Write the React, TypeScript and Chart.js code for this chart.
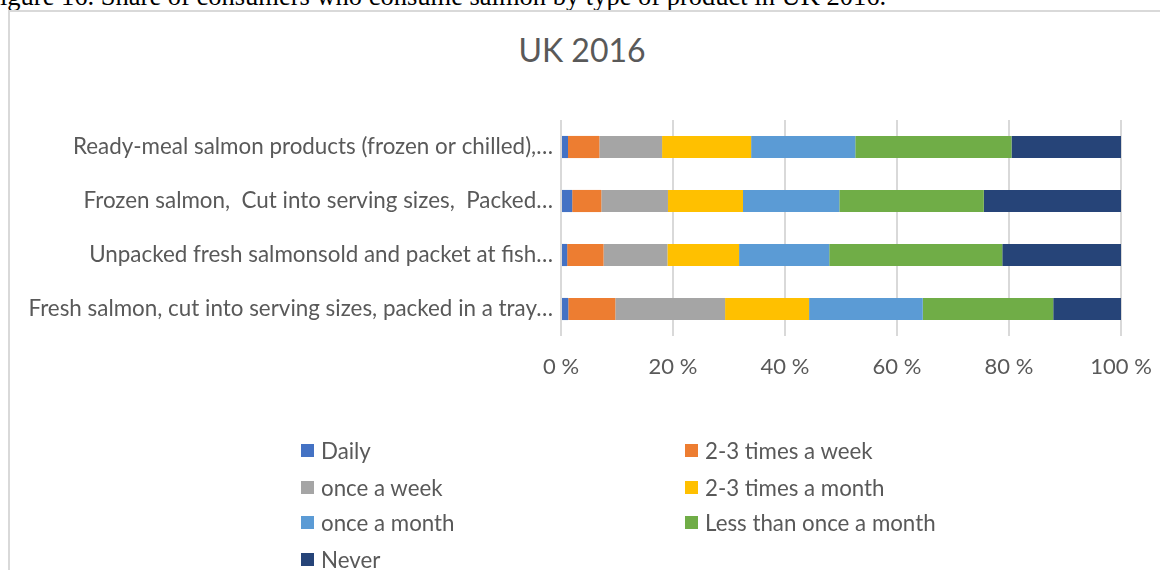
import React, { useEffect, useRef } from "react";
import { Chart, registerables } from "chart.js";

Chart.register(...registerables);

const caption = "igure 16. Share of consumers who consume salmon by type of product in UK 2016.";
const chartTitle = "UK 2016";

const categories = [
  "Ready-meal salmon products (frozen or chilled),…",
  "Frozen salmon,  Cut into serving sizes,  Packed…",
  "Unpacked fresh salmonsold and packet at fish…",
  "Fresh salmon, cut into serving sizes, packed in a tray…",
];

const seriesNames = [
  "Daily",
  "2-3 times a week",
  "once a week",
  "2-3 times a month",
  "once a month",
  "Less than once a month",
  "Never",
];

const daily = [1.25, 2.0, 1.1, 1.3];
const twoThreeWeek = [5.6, 5.2, 6.5, 8.4];
const onceWeek = [11.2, 11.9, 11.4, 19.6];
const twoThreeMonth = [15.9, 13.4, 12.8, 15.0];
const onceMonth = [18.6, 17.2, 16.1, 20.3];
const lessThanMonth = [27.9, 25.8, 30.9, 23.3];
const never = [19.55, 24.5, 21.2, 12.1];

const seriesValues = [daily, twoThreeWeek, onceWeek, twoThreeMonth, onceMonth, lessThanMonth, never];
const seriesColors = ["#4472C4", "#ED7D31", "#A5A5A5", "#FFC000", "#5B9BD5", "#70AD47", "#264478"];

const xTicks = [0, 20, 40, 60, 80, 100];
const tickSuffix = " %";

const TEXT = "#595959";
const FONT = "Lato";

export default function App() {
  const canvasRef = useRef<HTMLCanvasElement | null>(null);

  useEffect(() => {
    const canvas = canvasRef.current;
    if (!canvas) return;
    const chart = new Chart(canvas, {
      type: "bar",
      data: {
        labels: categories,
        datasets: seriesNames.map((name, i) => ({
          label: name,
          data: seriesValues[i],
          backgroundColor: seriesColors[i],
          borderWidth: 0,
          barPercentage: 0.41,
          categoryPercentage: 1.0,
        })),
      },
      options: {
        indexAxis: "y",
        responsive: false,
        animation: false,
        layout: { padding: { top: 120, right: 39, bottom: 174, left: 0 } },
        plugins: {
          legend: { display: false },
          tooltip: { enabled: false },
          title: { display: false },
        },
        scales: {
          x: {
            stacked: true,
            min: 0,
            max: 100,
            afterBuildTicks: (scale: any) => {
              scale.ticks = xTicks.map((v) => ({ value: v }));
            },
            afterFit: (scale: any) => {
              scale.height = 60;
              scale.paddingLeft = 0;
              scale.paddingRight = 0;
            },
            ticks: {
              color: TEXT,
              font: { family: FONT, size: 22 },
              padding: 18,
              callback: (v: any) => `${v}${tickSuffix}`,
            },
            grid: { color: "#d9d9d9", lineWidth: 2, drawTicks: false },
            border: { display: false },
          },
          y: {
            stacked: true,
            afterFit: (scale: any) => {
              scale.width = 561;
            },
            ticks: {
              color: TEXT,
              font: { family: FONT, size: 22.4 },
              padding: 8,
            },
            grid: { display: false, drawTicks: false },
            border: { display: false },
          },
        },
      },
    });
    return () => chart.destroy();
  }, []);

  return (
    <div
      style={{
        position: "fixed",
        left: 0,
        top: 0,
        width: 1160,
        height: 570,
        overflow: "hidden",
        background: "#ffffff",
      }}
    >
      <div
        style={{
          position: "absolute",
          left: 0,
          top: -17,
          fontFamily: "'Liberation Serif', serif",
          fontSize: 26.5,
          lineHeight: "26.5px",
          color: "#000",
          whiteSpace: "nowrap",
        }}
      >
        {caption}
      </div>
      <div
        style={{
          position: "absolute",
          left: 8,
          top: 10,
          width: 1200,
          height: 600,
          borderLeft: "2px solid #d9d9d9",
          borderTop: "2px solid #d9d9d9",
        }}
      />
      <div
        style={{
          position: "absolute",
          left: 382,
          width: 400,
          top: 31,
          textAlign: "center",
          fontFamily: FONT,
          fontSize: 32,
          lineHeight: "38.4px",
          color: TEXT,
          whiteSpace: "nowrap",
        }}
      >
        {chartTitle}
      </div>
      <canvas ref={canvasRef} width={1160} height={570} style={{ position: "absolute", left: 0, top: 0 }} />
      {seriesNames.map((name, i) => {
        const col = i % 2;
        const row = Math.floor(i / 2);
        const left = [301, 685][col];
        const top = [450, 487, 522, 559][row];
        return (
          <div
            key={name}
            style={{
              position: "absolute",
              left,
              top: top - 13,
              height: 26,
              display: "flex",
              alignItems: "center",
              fontFamily: FONT,
              fontSize: 22.3,
              color: TEXT,
              whiteSpace: "nowrap",
            }}
          >
            <span
              style={{
                display: "inline-block",
                width: 13,
                height: 13,
                background: seriesColors[i],
                marginRight: 7,
                flex: "none",
              }}
            />
            <span>{name}</span>
          </div>
        );
      })}
    </div>
  );
}
